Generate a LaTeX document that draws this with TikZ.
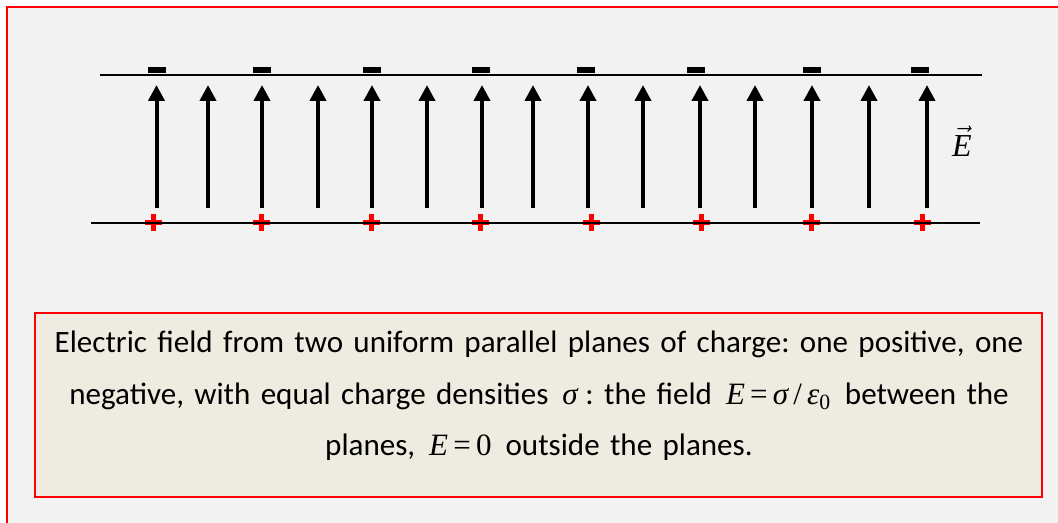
\documentclass[tikz,border=0pt]{standalone}
\usepackage{fontspec}
\setmainfont{Carlito}
\newfontfamily\tms{Liberation Serif}
\usetikzlibrary{arrows.meta}

\definecolor{pagegray}{HTML}{F2F2F2}
\definecolor{notefill}{HTML}{EEECE1}
\newcommand{\tvar}[1]{{\tms\itshape #1}}
\newcommand{\tup}[1]{{\tms #1}}
\newcommand{\gap}{\hspace{0.45em}}
\frenchspacing

\begin{document}
\begin{tikzpicture}[
        x=0.75pt, y=-0.75pt,
        frame/.style={draw=red, line width=1.6pt},
        plane/.style={draw, line width=1.5pt},
        field/.style={draw, line width=3pt, -{Triangle[width=12pt, length=12pt]}},
        note/.style={rectangle, frame, fill=notefill, minimum width=755pt, minimum height=138pt},
        notetext/.style={text width=770pt, align=center, font=\fontsize{23.3pt}{38.5pt}\selectfont}
        ]
        \useasboundingbox (0,0) rectangle (1058,523);
        \fill[white] (0,0) rectangle (1058,523);
        \draw[frame, fill=pagegray] (7,7) rectangle (1075,540);

        % charges
        \foreach \x in {157,262,372,481,586,696,812,920}
          \fill (\x-9,67) rectangle (\x+9,73);
        \foreach \x in {153,261,371,480,591,701,811,922}
          {\fill[red] (\x-8.5,220.5) rectangle (\x+8.5,225.5);
           \fill[red] (\x-2.5,214.5) rectangle (\x+2.5,231.5);}

        % planes
        \coordinate (top west) at (100,75.5);
        \coordinate (top east) at (982,75.5);
        \coordinate (bottom west) at (91,223);
        \coordinate (bottom east) at (980,223);
        \path[plane] (top west) -- (top east);
        \path[plane] (bottom west) -- (bottom east);

        % field lines
        \foreach \x in {156.5,208,262,318,372,427,482,533,588,643,700,755,812,869,927}
          \path[field] (\x,208) -- (\x,85);
        \node[inner sep=0pt] (efield) at (962,141) {\fontsize{24pt}{26pt}\selectfont$\vec{\mbox{\tvar{E}}}$};

        \node[note] (caption) at (538.5,405) {};
        \node[notetext] (captext) at (539,396) {Electric field from two uniform parallel planes of charge: one positive, one\\
          negative, with equal charge densities\gap\tvar{σ}\hspace{0.25em}: the field\gap\tvar{E}\,\tup{=}\,\tvar{σ}\,\tup{/}\,\tvar{ε}\tup{\textsubscript{0}}\gap between the\\
          planes,\gap\tvar{E}\,\tup{=}\,\tup{0}\gap outside the planes.};
      \end{tikzpicture}
\end{document}
